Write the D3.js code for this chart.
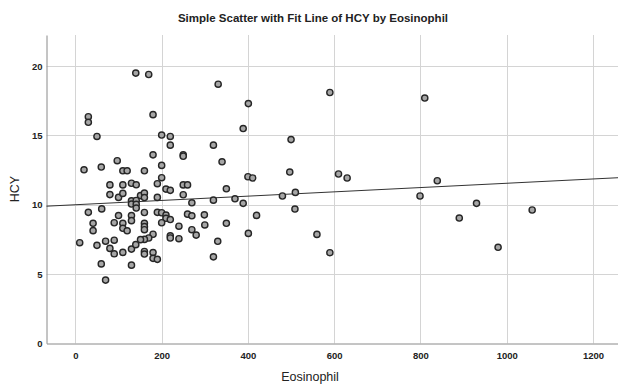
<!DOCTYPE html>
<html><head><meta charset="utf-8">
<script src="https://cdn.jsdelivr.net/npm/d3@7"></script>
<style>body{margin:0;background:#fff}svg{display:block}</style>
</head><body>
<svg id="c" width="618" height="384"></svg>
<script>
const eosinophil = [140,170,331,590,810,401,30,30,180,389,50,200,220,220,320,500,180,250,250,340,97,20,60,110,120,160,200,200,190,350,80,110,130,141,250,260,210,220,400,411,497,610,630,839,80,100,110,151,160,160,190,250,270,320,370,130,130,141,141,141,389,480,510,509,799,930,61,30,100,130,130,160,190,200,210,210,220,260,270,299,420,890,1059,350,41,41,90,110,110,120,160,160,160,200,240,270,280,300,180,170,160,151,220,220,240,330,401,560,10,50,70,90,80,90,110,130,140,160,160,180,180,190,320,590,980,60,130,70];
const hcy = [19.5,19.4,18.7,18.1,17.7,17.3,16.35,15.95,16.5,15.5,14.93,15.03,14.93,14.3,14.3,14.7,13.6,13.6,13.5,13.1,13.18,12.52,12.72,12.45,12.45,12.45,12.84,11.95,11.52,11.15,11.43,11.43,11.55,11.44,11.43,11.43,11.13,11.04,12.02,11.93,12.36,12.22,11.93,11.73,10.73,10.53,10.82,10.66,10.84,10.52,10.53,10.72,10.14,10.33,10.43,10.28,10.05,10.31,10.03,9.76,10.1,10.63,10.89,9.69,10.63,10.1,9.7,9.45,9.22,9.22,8.85,9.44,9.45,9.42,9.25,9.02,8.93,9.32,9.2,9.27,9.23,9.04,9.62,8.66,8.66,8.13,8.7,8.66,8.3,8.12,8.66,8.42,8.2,8.7,8.45,8.2,7.81,8.54,7.87,7.6,7.5,7.48,7.76,7.6,7.55,7.36,7.93,7.86,7.26,7.07,7.37,7.44,6.85,6.46,6.56,6.8,7.12,6.63,6.44,6.55,6.13,6.06,6.24,6.54,6.93,5.73,5.64,4.56];
const xTicks = [0,200,400,600,800,1000,1200];
const yTicks = [0,5,10,15,20];
const fitIntercept = 10.0;
const fitSlope = 0.00155;

const svg = d3.select("#c");
const x = d3.scaleLinear().domain([-67,1258]).range([46.5,618]);
const y = d3.scaleLinear().domain([0,22.25]).range([343.3,35]);

// gridlines
svg.append("g").selectAll("line.v").data(xTicks).join("line")
  .attr("x1",d=>Math.round(x(d))+0.5).attr("x2",d=>Math.round(x(d))+0.5)
  .attr("y1",35).attr("y2",343.3).attr("stroke","#d4d4d4").attr("stroke-width",1);
svg.append("g").selectAll("line.h").data(yTicks.filter(d=>d>0)).join("line")
  .attr("x1",46.5).attr("x2",618)
  .attr("y1",d=>Math.round(y(d))+0.5).attr("y2",d=>Math.round(y(d))+0.5)
  .attr("stroke","#d4d4d4").attr("stroke-width",1);

// axes
const xAxis = d3.axisBottom(x).tickValues(xTicks).tickFormat(d3.format("d")).tickSize(0).tickPadding(9);
const gx = svg.append("g").attr("transform","translate(0,343.5)").call(xAxis);
gx.select(".domain").attr("stroke","#8a8a8a");
gx.selectAll("text").attr("font-family","Liberation Sans, Arial, sans-serif")
  .attr("font-size","9.5px").attr("font-weight","bold").attr("fill","#222");
const yAxis = d3.axisLeft(y).tickValues(yTicks).tickFormat(d3.format("d")).tickSize(0).tickPadding(4);
const gy = svg.append("g").attr("transform","translate(46.5,0)").call(yAxis);
gy.select(".domain").attr("stroke","#8a8a8a");
gy.selectAll("text").attr("font-family","Liberation Sans, Arial, sans-serif")
  .attr("font-size","9.5px").attr("font-weight","bold").attr("fill","#222");

// fit line
const xd = x.domain();
svg.append("line")
  .attr("x1",x(xd[0])).attr("y1",y(fitIntercept+fitSlope*xd[0]))
  .attr("x2",x(xd[1])).attr("y2",y(fitIntercept+fitSlope*xd[1]))
  .attr("stroke","#333").attr("stroke-width",1);

// points
svg.append("g").selectAll("circle").data(eosinophil.map((e,i)=>[e,hcy[i]])).join("circle")
  .attr("cx",d=>x(d[0])).attr("cy",d=>y(d[1])).attr("r",3.1)
  .attr("fill","#a6a6a6").attr("stroke","#262626").attr("stroke-width",1.4);

// titles
svg.append("text").attr("x",313).attr("y",22).attr("text-anchor","middle")
  .attr("font-family","Liberation Sans, Arial, sans-serif").attr("font-size","11.5px")
  .attr("font-weight","bold").attr("fill","#222")
  .text("Simple Scatter with Fit Line of HCY by Eosinophil");
svg.append("text").attr("x",310).attr("y",381).attr("text-anchor","middle")
  .attr("font-family","Liberation Sans, Arial, sans-serif").attr("font-size","12.5px")
  .attr("fill","#222").text("Eosinophil");
svg.append("text").attr("transform","translate(19,189) rotate(-90)").attr("text-anchor","middle")
  .attr("font-family","Liberation Sans, Arial, sans-serif").attr("font-size","12.5px")
  .attr("fill","#222").text("HCY");
</script>
</body></html>
